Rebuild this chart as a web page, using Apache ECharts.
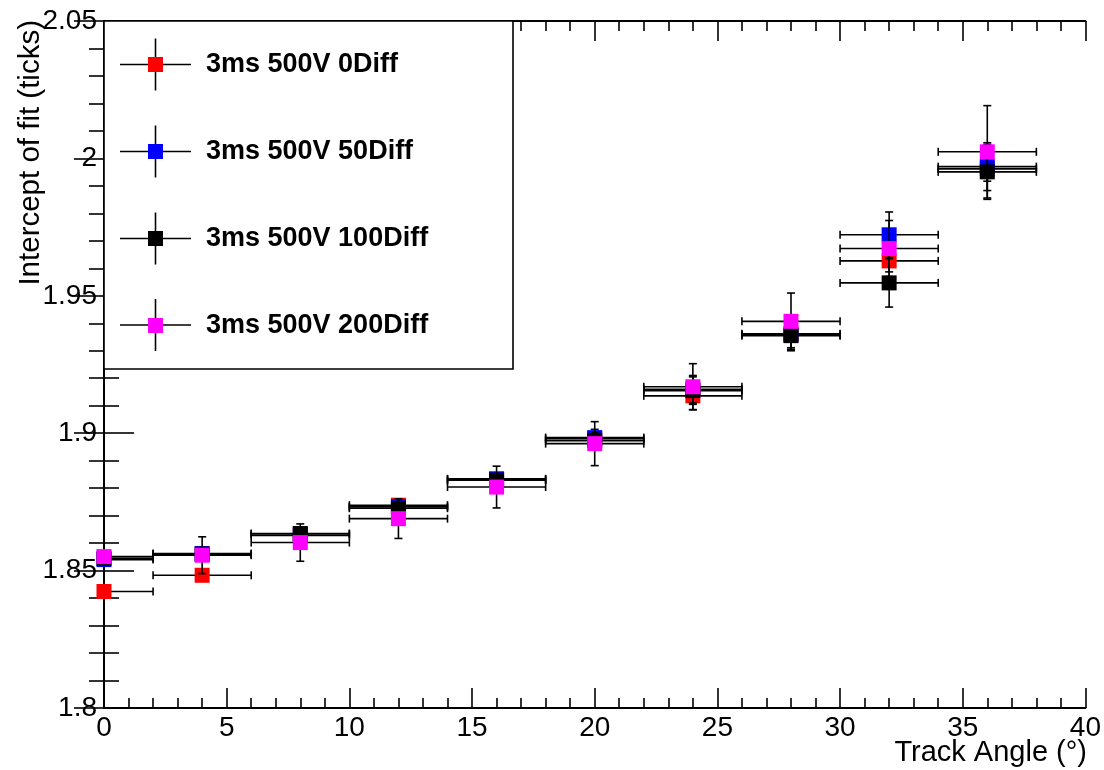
<!DOCTYPE html>
<html>
<head>
<meta charset="utf-8">
<script src="https://cdn.jsdelivr.net/npm/echarts@6/dist/echarts.min.js"></script>
<style>html,body{margin:0;padding:0;background:#fff}#c{width:1104px;height:770px}</style>
</head>
<body>
<div id="c"></div>
<script>
// ---- data ----
const angles   = [0, 4, 8, 12, 16, 20, 24, 28, 32, 36];
const angleErr = [2, 2, 2, 2, 2, 2, 2, 2, 2, 2];

const names = ['3ms 500V 0Diff', '3ms 500V 50Diff', '3ms 500V 100Diff', '3ms 500V 200Diff'];
const colors = ['#ff0000', '#0000ff', '#000000', '#ff00ff'];

const diff0     = [1.8424, 1.8483, 1.8628, 1.8738, 1.8832, 1.8980, 1.9136, 1.9362, 1.9627, 1.9962];
const diff0Err  = [0.0012, 0.0015, 0.0015, 0.0012, 0.0015, 0.0020, 0.0050, 0.0062, 0.0040, 0.0045];
const diff50    = [1.8540, 1.8562, 1.8633, 1.8732, 1.8834, 1.8984, 1.9160, 1.9358, 1.9722, 1.9970];
const diff50Err = [0.0012, 0.0015, 0.0020, 0.0015, 0.0020, 0.0030, 0.0050, 0.0053, 0.0083, 0.0087];
const diff100   = [1.8545, 1.8560, 1.8635, 1.8727, 1.8829, 1.8973, 1.9155, 1.9355, 1.9547, 1.9951];
const diff100Err= [0.0012, 0.0015, 0.0020, 0.0015, 0.0020, 0.0030, 0.0050, 0.0044, 0.0088, 0.0100];
const diff200   = [1.8551, 1.8556, 1.8602, 1.8689, 1.8804, 1.8962, 1.9169, 1.9407, 1.9672, 2.0024];
const diff200Err= [0.0012, 0.0067, 0.0068, 0.0072, 0.0076, 0.0080, 0.0084, 0.0103, 0.0102, 0.0168];

const yTitle = 'Intercept of fit (ticks)';
const xTitle = 'Track Angle (\u00B0)';

const values = [diff0, diff50, diff100, diff200];
const errors = [diff0Err, diff50Err, diff100Err, diff200Err];

const FONT = '"Liberation Sans", Arial, Helvetica, sans-serif';

function makeRender(color) {
  return function (params, api) {
    const x = api.value(0), y = api.value(1), ex = api.value(2), ey = api.value(3);
    const cs = params.coordSys;
    const c = api.coord([x, y]);
    let xl = api.coord([x - ex, y])[0];
    let xr = api.coord([x + ex, y])[0];
    const clipL = xl < cs.x, clipR = xr > cs.x + cs.width;
    xl = Math.max(xl, cs.x);
    xr = Math.min(xr, cs.x + cs.width);
    const yt = api.coord([x, y + ey])[1];
    const yb = api.coord([x, y - ey])[1];
    const cap = 4;
    const st = { stroke: '#000', lineWidth: 1.6 };
    const ch = [];
    ch.push({ type: 'line', shape: { x1: xl, y1: c[1], x2: xr, y2: c[1] }, style: st });
    if (!clipL) ch.push({ type: 'line', shape: { x1: xl, y1: c[1] - cap, x2: xl, y2: c[1] + cap }, style: st });
    if (!clipR) ch.push({ type: 'line', shape: { x1: xr, y1: c[1] - cap, x2: xr, y2: c[1] + cap }, style: st });
    ch.push({ type: 'line', shape: { x1: c[0], y1: yt, x2: c[0], y2: yb }, style: st });
    ch.push({ type: 'line', shape: { x1: c[0] - cap, y1: yt, x2: c[0] + cap, y2: yt }, style: st });
    ch.push({ type: 'line', shape: { x1: c[0] - cap, y1: yb, x2: c[0] + cap, y2: yb }, style: st });
    ch.push({ type: 'rect', shape: { x: c[0] - 7.5, y: c[1] - 7.5, width: 15, height: 15 }, style: { fill: color } });
    return { type: 'group', children: ch };
  };
}

const series = names.map((n, i) => ({
  type: 'custom',
  name: n,
  xAxisIndex: 0,
  yAxisIndex: 0,
  itemStyle: { color: colors[i] },
  renderItem: makeRender(colors[i]),
  data: angles.map((a, k) => [a, values[i][k], angleErr[k], errors[i][k]]),
  z: 3 + i
}));

const axisLine = { show: true, lineStyle: { color: '#000', width: 2 } };

const chart = echarts.init(document.getElementById('c'), null, { renderer: 'canvas' });

// legend box and cross decorations, axis titles
const legendCenters = [64.5, 151.5, 238.5, 325];
const legendGraphics = [
  { type: 'rect', z: 6, shape: { x: 104, y: 21, width: 409, height: 348 },
    style: { fill: '#fff', stroke: '#000', lineWidth: 1.6 } }
];
legendCenters.forEach(cy => {
  legendGraphics.push({ type: 'line', z: 7, shape: { x1: 120, y1: cy, x2: 191, y2: cy }, style: { stroke: '#000', lineWidth: 1.6 } });
  legendGraphics.push({ type: 'line', z: 7, shape: { x1: 155.5, y1: cy - 26, x2: 155.5, y2: cy + 26 }, style: { stroke: '#000', lineWidth: 1.6 } });
});
legendGraphics.push({
  type: 'text', z: 7, x: 1087, y: 753,
  style: { text: xTitle, font: '29px ' + FONT, fill: '#000', textAlign: 'right', textVerticalAlign: 'middle' }
});
legendGraphics.push({
  type: 'text', z: 7, x: 31, y: 20, rotation: Math.PI / 2,
  style: { text: yTitle, font: '29.5px ' + FONT, fill: '#000', textAlign: 'right', textVerticalAlign: 'middle' }
});

chart.setOption({
  animation: false,
  backgroundColor: '#fff',
  grid: { left: 104, right: 16, top: 21, bottom: 62, containLabel: false },
  xAxis: [
    {
      type: 'value', position: 'bottom', min: 0, max: 40, interval: 5,
      axisLine: axisLine,
      axisTick: { show: true, inside: true, length: 20, lineStyle: { color: '#000', width: 1.6 } },
      minorTick: { show: true, splitNumber: 5, length: 10, lineStyle: { color: '#000', width: 1.6 } },
      splitLine: { show: false },
      axisLabel: { show: true, margin: 6, color: '#000', fontSize: 28, fontFamily: FONT }
    },
    {
      type: 'value', position: 'top', min: 0, max: 40, interval: 5,
      axisLine: axisLine,
      axisTick: { show: true, inside: true, length: 20, lineStyle: { color: '#000', width: 1.6 } },
      minorTick: { show: true, splitNumber: 5, length: 10, lineStyle: { color: '#000', width: 1.6 } },
      splitLine: { show: false },
      axisLabel: { show: false }
    }
  ],
  yAxis: [
    {
      type: 'value', position: 'left', min: 1.8, max: 2.05, interval: 0.05,
      axisLine: axisLine,
      axisTick: { show: true, inside: true, length: 30, lineStyle: { color: '#000', width: 1.6 } },
      minorTick: { show: true, splitNumber: 5, length: 15, lineStyle: { color: '#000', width: 1.6 } },
      splitLine: { show: false },
      axisLabel: { show: true, margin: 7, color: '#000', fontSize: 28, fontFamily: FONT }
    },
    {
      type: 'value', position: 'right', min: 1.8, max: 2.05, interval: 0.05,
      axisLine: axisLine,
      axisTick: { show: true, inside: true, length: 30, lineStyle: { color: '#000', width: 1.6 } },
      minorTick: { show: true, splitNumber: 5, length: 15, lineStyle: { color: '#000', width: 1.6 } },
      splitLine: { show: false },
      axisLabel: { show: false }
    }
  ],
  legend: {
    show: true,
    z: 10,
    orient: 'vertical',
    left: 148,
    top: 49.5,
    padding: 0,
    itemWidth: 15,
    itemHeight: 15,
    itemGap: 57,
    icon: 'rect',
    selectedMode: false,
    data: names,
    textStyle: { color: '#000', fontSize: 27, fontWeight: 'bold', fontFamily: FONT, lineHeight: 30, padding: [0, 0, 0, 38] }
  },
  graphic: legendGraphics,
  series: series
});
</script>
</body>
</html>
